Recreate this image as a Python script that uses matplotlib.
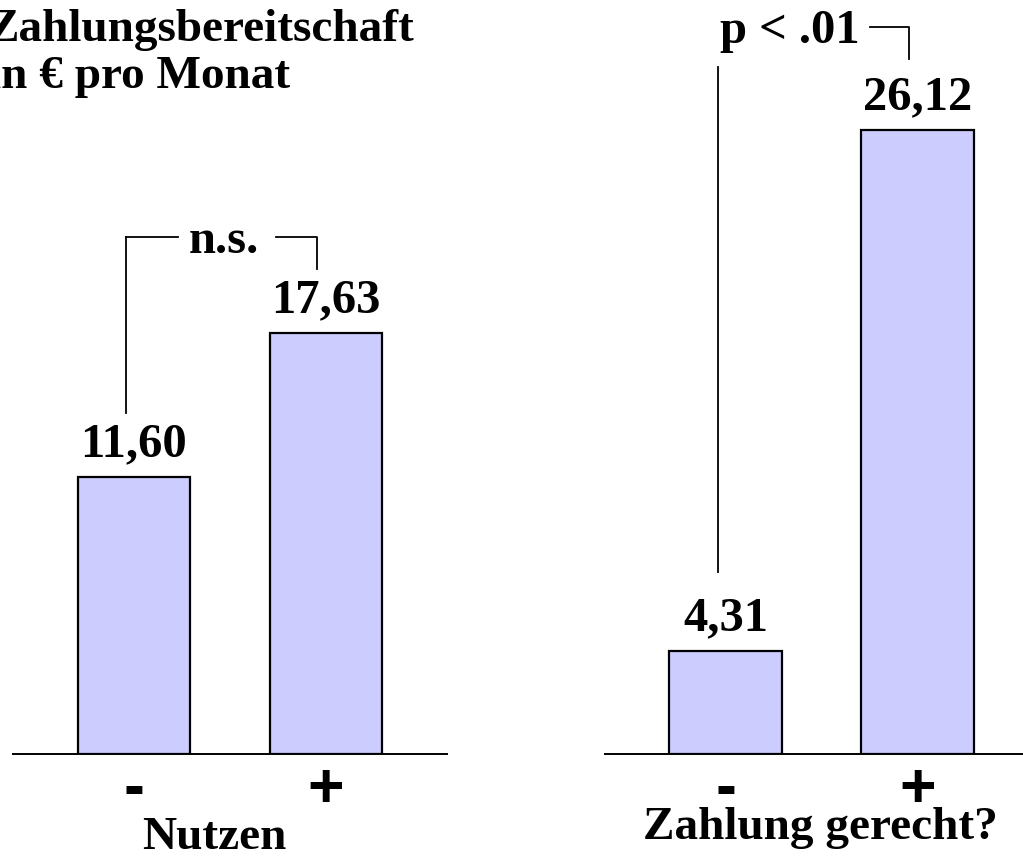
import numpy as np
import matplotlib
matplotlib.use("Agg")
import matplotlib.pyplot as plt

# data
cats = ["-", "+"]
nutzen = [11.60, 17.63]
gerecht = [4.31, 26.12]
labels_nutzen = ["11,60", "17,63"]
labels_gerecht = ["4,31", "26,12"]

W, H = 1023, 856
fig = plt.figure(figsize=(W / 100, H / 100), dpi=100)

serif = "Liberation Serif"
sans = "Liberation Sans"
bar_col = "#CCCCFF"
ymax = 754 / 23.9


def panel(left_px, vals, labs, xlabel, xlab_x, xlab_y, sig, sig_x, lvl_off, leg_l, leg_r):
    ax = fig.add_axes([left_px / W, (H - 754) / H, 434 / W, 754 / H])
    x = np.arange(len(vals))
    ax.bar(x, vals, width=0.585, color=bar_col, edgecolor="black", linewidth=1.6, zorder=2)
    ax.set_xlim(-0.63, 1.63)
    ax.set_ylim(0, ymax)
    for s in ["top", "right", "left"]:
        ax.spines[s].set_visible(False)
    ax.spines["bottom"].set_linewidth(1.4)
    ax.set_yticks([])
    ax.set_xticks(x, cats, fontfamily=sans, fontweight="bold", fontsize=45)
    ax.tick_params(axis="x", length=0, pad=5)
    ax.set_xlabel(xlabel, fontfamily=serif, fontweight="bold", fontsize=34)
    ax.xaxis.set_label_coords(xlab_x, xlab_y)
    for xi, v, t in zip(x, vals, labs):
        ax.annotate(t, (xi, v), xytext=(0, 15), textcoords="offset points",
                    ha="center", va="baseline", fontfamily=serif,
                    fontweight="bold", fontsize=35)
    # significance bracket
    lvl = max(vals) + lvl_off
    xl, xr = -0.04, 0.955
    ax.plot([xl, xl], [vals[0] + leg_l[0], vals[0] + leg_l[1]], color="black", lw=1.3, clip_on=False)
    ax.plot([xr, xr, sig_x[1]], [vals[1] + leg_r, lvl, lvl], color="black", lw=1.3, clip_on=False)
    if sig_x[0] is not None:
        ax.plot([xl, sig_x[0]], [lvl, lvl], color="black", lw=1.3, clip_on=False)
    ax.annotate(sig, (sig_x[2], lvl), xytext=(0, -12), textcoords="offset points",
                ha="center", va="baseline", fontfamily=serif, fontweight="bold", fontsize=35)
    return ax


# Nutzen panel
panel(13, nutzen, labels_nutzen, "Nutzen", 0.465, -0.084, "n.s.",
      (0.23, 0.74, 0.47), 96 / 23.9, (2.68, 96 / 23.9 + max(nutzen) - nutzen[0]), 64 / 23.9)

# Zahlung gerecht panel
panel(604.5, gerecht, labels_gerecht, "Zahlung gerecht?", 0.497, -0.07, "p < .01",
      (None, 0.75, 0.335), 103 / 23.9, (3.3, 103 / 23.9 - 40 / 23.9 + max(gerecht) - gerecht[0]), 71 / 23.9)

fig.text(-12 / W, 1 - 9 / H, "Zahlungsbereitschaft\nin € pro Monat", ha="left", va="top",
         fontfamily=serif, fontweight="bold", fontsize=34, linespacing=1.17)

fig.savefig("out.png", dpi=100)
